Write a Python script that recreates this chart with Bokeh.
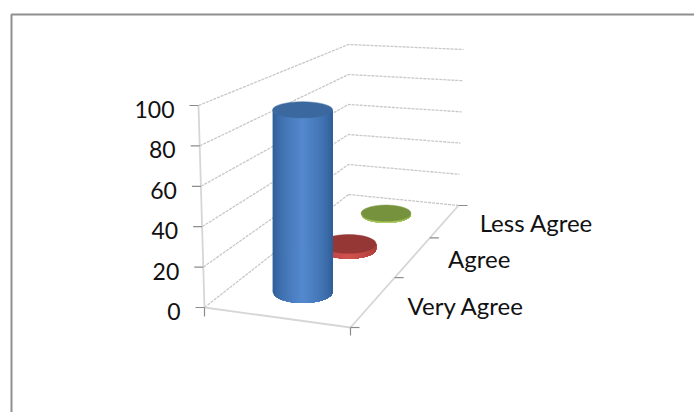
import numpy as np
from bokeh.core.properties import value
from bokeh.embed import file_html
from bokeh.models import Range1d
from bokeh.plotting import figure
from bokeh.resources import INLINE

# chart data
categories = ["Very Agree", "Agree", "Less Agree"]
responses = [94, 3, 1]
value_ticks = [0, 20, 40, 60, 80, 100]

top_colors = ["#3b689e", "#953735", "#76923c"]
edge_colors = ["#2c5a92", "#a83a38", "#8aab46"]
mid_colors = ["#5489cf", "#d0524f", "#b2d263"]

# corners of the floor and of the walls' top edge, in page pixels
FL, FR, BR, BL = (204, 307), (350, 327), (458, 205), (348, 194)
BL_TOP, BR_TOP, FL_TOP = (348, 44), (463, 49), (198, 105)
FONT = value("Lato")


def homography(src, dst):
    rows, rhs = [], []
    for (u, v), (x, y) in zip(src, dst):
        rows.append([u, v, 1, 0, 0, 0, -u * x, -v * x])
        rows.append([0, 0, 0, u, v, 1, -u * y, -v * y])
        rhs += [x, y]
    return np.append(np.linalg.solve(np.array(rows, float), np.array(rhs, float)), 1).reshape(3, 3)


H = homography([(0, 0), (1, 0), (1, 1), (0, 1)], [FL, FR, BR, BL])


def floor(u, d):
    x, y, w = H @ np.array([u, d, 1.0])
    return x / w, y / w


def height_100(d):
    return 202 + (152 - 202) * d


def lerp(a, b, t):
    return a[0] + (b[0] - a[0]) * t, a[1] + (b[1] - a[1]) * t


def mix(c1, c2, t):
    a = [int(c1[i:i + 2], 16) for i in (1, 3, 5)]
    b = [int(c2[i:i + 2], 16) for i in (1, 3, 5)]
    return "#%02x%02x%02x" % tuple(round(p + (q - p) * t) for p, q in zip(a, b))


p = figure(width=694, height=412, output_backend="svg", toolbar_location=None,
           x_range=Range1d(0, 694), y_range=Range1d(412, 0), min_border=0)
p.axis.visible = False
p.grid.visible = False
p.outline_line_color = None
p.background_fill_color = "white"
p.border_fill_color = "white"

# chart area frame, running off the right and bottom of the page
p.line([11, 11, 694], [412, 14, 14], line_color="#8f8f8f", line_width=2)

# dotted gridlines over the two walls
for v in value_ticks[1:]:
    t = v / 100
    a, b, c = lerp(FL, FL_TOP, t), lerp(BL, BL_TOP, t), lerp(BR, BR_TOP, t)
    p.line([a[0], b[0], c[0]], [a[1], b[1], c[1]], line_color="#c8c8c8", line_width=1.3, line_dash="3 1")
p.line([BL[0], BR[0]], [BL[1], BR[1]], line_color="#c8c8c8", line_width=1.3, line_dash="3 1")
p.line([FL[0], BL[0]], [FL[1], BL[1]], line_color="#c8c8c8", line_width=1.3, line_dash="3 1")

# floor edges and vertical axis
p.line([BR[0], FR[0], FL[0], FL_TOP[0]], [BR[1], FR[1], FL[1], FL_TOP[1]], line_color="#d6d6d6", line_width=1.8)

# value axis ticks and labels
for v in value_ticks:
    x, y = lerp(FL, FL_TOP, v / 100)
    p.line([x - 9, x], [y, y], line_color="#8c8c8c", line_width=1.2)
    p.text([x - 24], [y + 4], text=[str(v)], text_font=FONT, text_font_size="23px",
           text_align="right", text_baseline="middle", text_color="#111111")
p.line([FL[0], FL[0]], [FL[1], FL[1] + 9], line_color="#8c8c8c", line_width=1.2)

# category axis ticks along the right floor edge
for d in (0, 1 / 3, 2 / 3, 1):
    x, y = floor(1, d)
    p.line([x, x + 9], [y, y], line_color="#8c8c8c", line_width=1.2)
p.line([FR[0], FR[0]], [FR[1], FR[1] + 8], line_color="#8c8c8c", line_width=1.2)

label_dx = [92, 66, 91.5]
label_dy = [4, 2, 2]
for i, name in enumerate(categories):
    x, y = floor(1, (i + 0.5) / 3)
    p.text([x + label_dx[i]], [y + label_dy[i]], text=[name], text_font=FONT, text_font_size="24px",
           text_align="center", text_baseline="middle", text_color="#111111")


def flatten_ratio(y):
    return 0.27 + (y - 111) * 0.1 / 181


# cylinders, back to front so the tall one sits over the others
for i in reversed(range(len(categories))):
    d = (i + 0.5) / 3
    cx, base_y = floor(0.495, d)
    top_y = base_y - responses[i] / 100 * height_100(d)
    rx = 0.155 * height_100(d)
    ry_base, ry_top = rx * flatten_ratio(base_y), rx * flatten_ratio(top_y)
    n = 40
    edges = np.linspace(-1, 1, n + 1)
    xs, ys, colors = [], [], []
    # each band reaches the far side and the next one paints over it, leaving no seams
    for a in edges[:-1]:
        ua = np.linspace(a, 1, 40)
        low = base_y + ry_base * np.sqrt(np.clip(1 - ua ** 2, 0, 1))
        high = top_y + ry_top * np.sqrt(np.clip(1 - ua ** 2, 0, 1))
        xs.append(list(cx + rx * ua) + list(cx + rx * ua[::-1]))
        ys.append(list(low) + list(high[::-1]))
        mid = a + 1 / n
        colors.append(mix(edge_colors[i], mid_colors[i], max(0.0, 1 - abs(mid)) ** 0.6))
    p.patches(xs, ys, fill_color=colors, line_color=None)
    p.ellipse([cx], [top_y], width=[2 * rx], height=[2 * ry_top], fill_color=top_colors[i],
              line_color=top_colors[i], line_width=0.5)

open("out.html", "w").write(file_html(p, INLINE))
